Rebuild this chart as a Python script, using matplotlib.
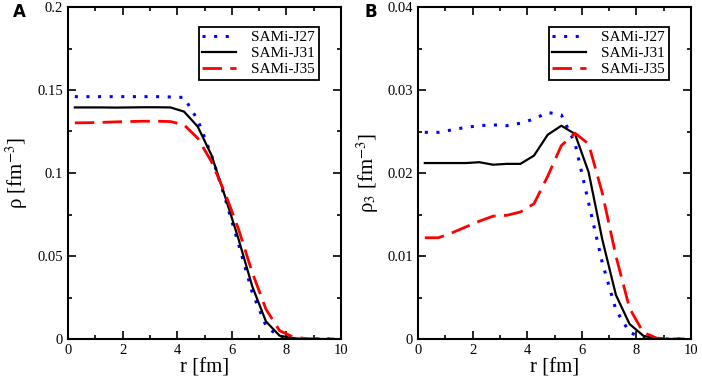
import numpy as np
import matplotlib
matplotlib.use("Agg")
import matplotlib.pyplot as plt
from matplotlib.ticker import MultipleLocator, FuncFormatter

# radial grid [fm]
r = [0.25, 0.75, 1.25, 1.75, 2.25, 2.75, 3.25, 3.75, 4.25, 4.75,
     5.25, 5.75, 6.25, 6.75, 7.25, 7.75, 8.25, 8.75, 9.25, 9.75]

# panel A: total density rho [fm^-3]
rho_j27 = [0.1460, 0.1460, 0.1460, 0.1460, 0.1460, 0.1460, 0.1460, 0.1458, 0.1455, 0.1320,
           0.1110, 0.0850, 0.0570, 0.0280, 0.0080, 0.0010, 0.0001, 0.0, 0.0, 0.0]
rho_j31 = [0.1395, 0.1395, 0.1395, 0.1394, 0.1395, 0.1396, 0.1396, 0.1395, 0.1370, 0.1280,
           0.1110, 0.0860, 0.0600, 0.0317, 0.0106, 0.0020, 0.0004, 0.0, 0.0, 0.0]
rho_j35 = [0.1302, 0.1303, 0.1305, 0.1308, 0.1310, 0.1312, 0.1312, 0.1310, 0.1290, 0.1210,
           0.1070, 0.0880, 0.0660, 0.0400, 0.0180, 0.0050, 0.0012, 0.0002, 0.0, 0.0]

# panel B: isovector density rho_3 [fm^-3]
rho3_j27 = [0.0249, 0.0249, 0.0252, 0.0255, 0.0257, 0.0258, 0.0257, 0.0260, 0.0265, 0.0273,
            0.0270, 0.0236, 0.0164, 0.0092, 0.0035, 0.0008, 0.0001, 0.0, 0.0, 0.0]
rho3_j31 = [0.0212, 0.0212, 0.0212, 0.0212, 0.0213, 0.0210, 0.0211, 0.0211, 0.0221, 0.0246,
            0.0257, 0.0247, 0.0201, 0.0120, 0.0053, 0.0018, 0.0004, 0.0, 0.0, 0.0]
rho3_j35 = [0.0122, 0.0122, 0.0128, 0.0135, 0.0142, 0.0148, 0.0149, 0.0153, 0.0163, 0.0196,
            0.0233, 0.0248, 0.0235, 0.0176, 0.0100, 0.0037, 0.0008, 0.0001, 0.0, 0.0]

labels = ["SAMi-J27", "SAMi-J31", "SAMi-J35"]

plt.rcParams["font.family"] = "Liberation Serif"
plt.rcParams["mathtext.fontset"] = "stix"

fig = plt.figure(figsize=(7.02, 3.82), dpi=100)
axA = fig.add_axes([68 / 702, 43 / 382, 273 / 702, 332 / 382])
axB = fig.add_axes([418 / 702, 43 / 382, 273 / 702, 332 / 382])


def draw_panel(ax, y27, y31, y35, ymax, ymajor, yminor, ylabel):
    ax.plot(r, y27, color="blue", lw=2.2, linestyle=(0, (1, 2.8)), label=labels[0])
    ax.plot(r, y31, color="black", lw=1.6, linestyle="-", label=labels[1])
    ax.plot(r, y35, color="red", lw=2.0, linestyle=(0, (7, 3)), label=labels[2])

    ax.set_xlim(0, 10)
    ax.set_ylim(0, ymax)
    ax.xaxis.set_major_locator(MultipleLocator(2))
    ax.xaxis.set_minor_locator(MultipleLocator(1))
    ax.yaxis.set_major_locator(MultipleLocator(ymajor))
    ax.yaxis.set_minor_locator(MultipleLocator(yminor))
    ax.tick_params(which="both", direction="in", top=True, right=True,
                   labelsize=10.5, width=1.2)
    ax.tick_params(which="major", length=5.5)
    ax.tick_params(which="minor", length=3)
    for s in ax.spines.values():
        s.set_linewidth(1.5)

    ax.set_xlabel("r [fm]", fontsize=15, labelpad=1)
    ax.set_ylabel(ylabel, fontsize=15, labelpad=5)

    leg = ax.legend(loc="upper right", fontsize=11, handlelength=2.2,
                    fancybox=False, edgecolor="black", framealpha=1,
                    borderpad=0.25, labelspacing=0.15, handletextpad=1.0,
                    borderaxespad=0, bbox_to_anchor=(0.919, 0.94))
    leg.get_frame().set_linewidth(1.3)


draw_panel(axA, rho_j27, rho_j31, rho_j35, 0.2, 0.05, 0.025,
           "ρ [fm$^{-3}$]")
axA.yaxis.set_major_formatter(FuncFormatter(
    lambda v, p: "0" if v == 0 else f"{v:g}"))

draw_panel(axB, rho3_j27, rho3_j31, rho3_j35, 0.04, 0.01, 0.005,
           "ρ$_3$ [fm$^{-3}$]")
axB.yaxis.set_major_formatter(FuncFormatter(
    lambda v, p: "0" if v == 0 else f"{v:.2f}"))

fig.text(13 / 702, 1 - 12 / 382, "A", fontsize=12, fontweight="bold",
         family="DejaVu Sans", va="center", ha="left")
fig.text(364 / 702, 1 - 12 / 382, "B", fontsize=12, fontweight="bold",
         family="DejaVu Sans", va="center", ha="left")

fig.savefig("out.png", dpi=100)
